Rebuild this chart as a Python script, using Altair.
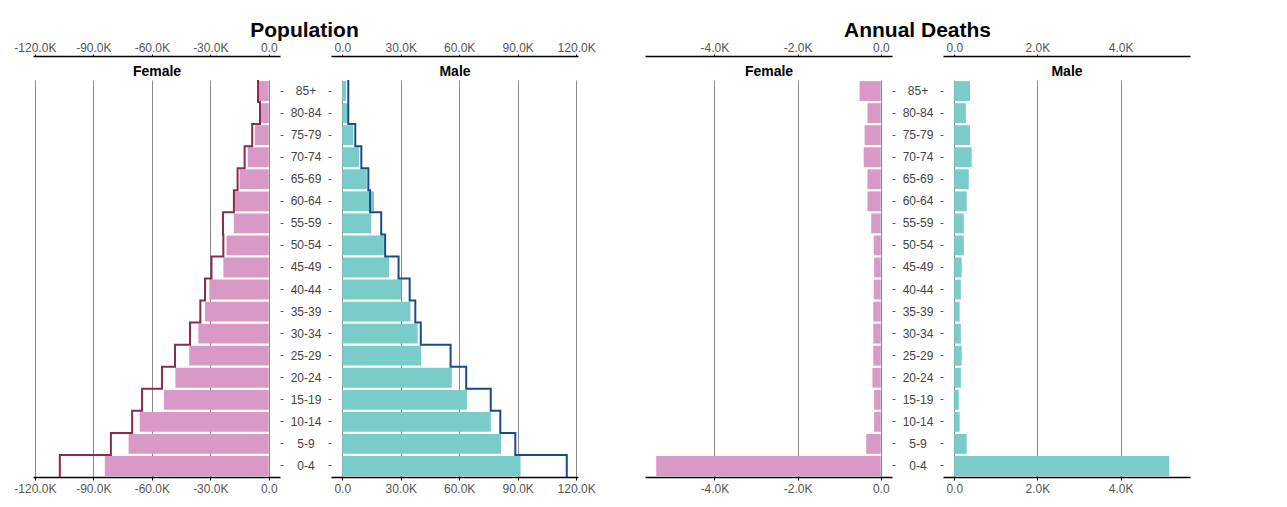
import altair as alt
import pandas as pd

ages = ["85+", "80-84", "75-79", "70-74", "65-69", "60-64", "55-59", "50-54", "45-49",
        "40-44", "35-39", "30-34", "25-29", "20-24", "15-19", "10-14", "5-9", "0-4"]

# Population (thousands)
female_pop = [5.0, 4.5, 7.1, 10.8, 15.0, 17.9, 17.9, 21.7, 23.3, 30.5, 32.7, 36.1, 40.8, 47.9, 53.8, 66.2, 71.9, 84.1]
female_pop_line = [5.5, 4.5, 8.5, 12.4, 16.0, 17.9, 23.5, 23.3, 29.4, 32.7, 35.1, 40.4, 48.1, 54.8, 65.0, 70.1, 81.0, 107.2]
male_pop = [2.0, 2.9, 5.7, 8.6, 12.6, 16.3, 14.9, 21.4, 24.0, 30.2, 35.0, 38.7, 40.5, 56.2, 64.0, 76.2, 81.5, 91.5]
male_pop_line = [3.1, 3.1, 6.7, 9.8, 13.4, 14.3, 20.0, 22.0, 28.9, 34.6, 37.5, 40.3, 55.6, 63.6, 76.2, 81.1, 88.8, 115.2]

# Annual deaths (thousands)
female_deaths = [0.51, 0.32, 0.39, 0.41, 0.32, 0.32, 0.23, 0.17, 0.16, 0.17, 0.18, 0.18, 0.18, 0.20, 0.16, 0.16, 0.35, 5.40]
male_deaths = [0.38, 0.28, 0.38, 0.42, 0.35, 0.30, 0.23, 0.23, 0.18, 0.16, 0.13, 0.16, 0.18, 0.16, 0.11, 0.13, 0.30, 5.17]

pop_ticks_f = [-120000, -90000, -60000, -30000, 0]
pop_ticks_m = [0, 30000, 60000, 90000, 120000]
death_ticks_f = [-4000, -2000, 0]
death_ticks_m = [0, 2000, 4000]

FEMALE_BAR = "#d899c6"
MALE_BAR = "#7accca"
FEMALE_LINE = "#8b2a4e"
MALE_LINE = "#1b4a8c"
FONT = "Liberation Sans"

W = 247
H = 397

label_expr = ("datum.value == 0 ? '0.0' : (datum.value < 0 ? '-' : '') + "
              "format(abs(datum.value) / 1000, '.1f') + 'K'")


def panel(sex, values, line_vals, color, line_color, M, ticks, left):
    sign = -1 if left else 1
    df = pd.DataFrame({"age": ages, "value": [sign * v * 1000 for v in values]})
    dom = [-1.05 * M, 0.05 * M] if left else [-0.05 * M, 1.05 * M]
    xscale = alt.Scale(domain=dom, nice=False)
    yscale = alt.Scale(paddingInner=0.1, paddingOuter=0.05)

    bottom_axis = alt.Axis(orient="bottom", values=ticks, labelExpr=label_expr, grid=True,
                           gridColor="#8a8a8a", gridWidth=1, title=None, domainColor="#000",
                           domainWidth=1.5, tickColor="#000", tickSize=3, labelFlush=False,
                           labelOverlap=False, labelPadding=3, labelFontSize=12,
                           labelColor="#555", labelFont=FONT)
    top_axis = alt.Axis(orient="top", offset=24, values=ticks, labelExpr=label_expr, grid=False,
                        title=None, domainColor="#000", domainWidth=1.5, tickColor="#000",
                        tickSize=2, labelFlush=False, labelOverlap=False, labelPadding=0,
                        labelFontSize=12, labelColor="#555", labelFont=FONT)
    head_axis = alt.Axis(orient="top", offset=0, title=sex, labels=False, ticks=False,
                         domain=False, grid=False, titlePadding=2, titleFontSize=14,
                         titleFontWeight="bold", titleColor="#000", titleFont=FONT)
    if left:
        yaxis = alt.Axis(orient="right", title=None, domain=False, tickSize=3, tickColor="#555",
                         labelAlign="center", labelPadding=22.5, labelFontSize=12,
                         labelColor="#444", labelFont=FONT)
    else:
        yaxis = alt.Axis(orient="left", title=None, domain=False, tickSize=3, tickColor="#555",
                         labels=False)

    base = alt.Chart(df)
    bars = base.mark_bar(color=color).encode(
        x=alt.X("value:Q", scale=xscale, axis=bottom_axis),
        y=alt.Y("age:N", sort=ages, scale=yscale, axis=yaxis),
    )
    top = base.mark_bar(opacity=0).encode(
        x=alt.X("value:Q", scale=xscale, axis=top_axis),
        y=alt.Y("age:N", sort=ages, scale=yscale, axis=None),
    )
    head = base.mark_bar(opacity=0).encode(
        x=alt.X("value:Q", scale=xscale, axis=head_axis),
        y=alt.Y("age:N", sort=ages, scale=yscale, axis=None),
    )
    layers = [bars]
    if line_vals is not None:
        rows = []
        for k, v in enumerate(line_vals):
            rows.append({"x": sign * v * 1000, "y": k, "o": 2 * k})
            rows.append({"x": sign * v * 1000, "y": k + 1, "o": 2 * k + 1})
        ldf = pd.DataFrame(rows)
        line = alt.Chart(ldf).mark_line(color=line_color, strokeWidth=2).encode(
            x=alt.X("x:Q", scale=xscale, axis=None),
            y=alt.Y("y:Q", scale=alt.Scale(domain=[0, len(ages)], reverse=True, nice=False, zero=False), axis=None),
            order="o:Q",
        )
        layers.append(line)
    layers += [top, head]
    return alt.layer(*layers).properties(width=W, height=H).resolve_scale(
        y="independent").resolve_axis(x="independent", y="independent")


M_pop = max(female_pop + female_pop_line + male_pop + male_pop_line) * 1000
M_death = max(female_deaths + male_deaths) * 1000

pop = alt.hconcat(
    panel("Female", female_pop, female_pop_line, FEMALE_BAR, FEMALE_LINE, M_pop, pop_ticks_f, True),
    panel("Male", male_pop, male_pop_line, MALE_BAR, MALE_LINE, M_pop, pop_ticks_m, False),
    spacing=51, bounds="flush",
    title=alt.Title("Population", fontSize=21, fontWeight="bold", font=FONT, color="#000",
                    anchor="middle", offset=0),
)
deaths = alt.hconcat(
    panel("Female", female_deaths, None, FEMALE_BAR, FEMALE_LINE, M_death, death_ticks_f, True),
    panel("Male", male_deaths, None, MALE_BAR, MALE_LINE, M_death, death_ticks_m, False),
    spacing=51, bounds="flush",
    title=alt.Title("Annual Deaths", fontSize=21, fontWeight="bold", font=FONT, color="#000",
                    anchor="middle", offset=0),
)

chart = alt.hconcat(
    pop, deaths, spacing=49,
    padding={"top": 12, "left": 5, "right": 5, "bottom": 5},
    background="white",
).configure(font=FONT).configure_view(strokeWidth=0, strokeOpacity=0)

chart.save("out.html", embed_options={"renderer": "svg", "actions": False})
